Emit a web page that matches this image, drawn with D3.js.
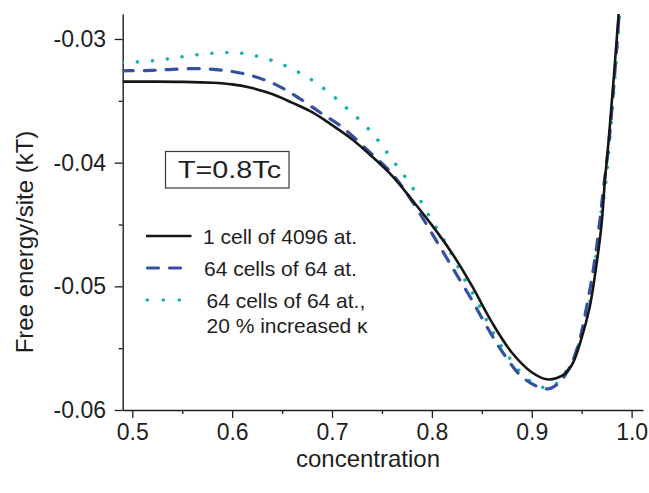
<!DOCTYPE html>
<html>
<head>
<meta charset="utf-8">
<script src="https://cdn.jsdelivr.net/npm/d3@7"></script>
<style>
  html, body { margin: 0; padding: 0; background: #fff; }
  svg { display: block; font-family: "Liberation Sans", Arial, Helvetica, sans-serif; }
</style>
</head>
<body>
<svg id="chart" width="649" height="493"></svg>
<script>
// Free energy per site vs. concentration at T = 0.8 Tc
const singleCellX = [0.49, 0.52, 0.55, 0.58, 0.60, 0.62, 0.64, 0.66, 0.68, 0.70, 0.72, 0.74, 0.76, 0.78, 0.80, 0.82, 0.84, 0.86, 0.88, 0.90, 0.915, 0.93, 0.94, 0.95, 0.958, 0.965, 0.97, 0.9733, 0.977, 0.987, 0.99];
const singleCellF = [-0.03345, -0.03345, -0.03347, -0.03354, -0.03367, -0.03397, -0.03445, -0.03515, -0.03592, -0.03696, -0.03810, -0.03950, -0.04105, -0.04300, -0.04505, -0.04730, -0.04995, -0.05290, -0.05535, -0.05695, -0.05752, -0.05725, -0.05638, -0.05415, -0.05170, -0.04814, -0.04490, -0.04140, -0.03820, -0.02800, -0.02450];

const smallCellsX = [0.49, 0.50, 0.52, 0.54, 0.565, 0.59, 0.615, 0.64, 0.665, 0.69, 0.71, 0.735, 0.76, 0.78, 0.81, 0.825, 0.84, 0.855, 0.872, 0.892, 0.915, 0.926, 0.938, 0.947, 0.955, 0.961, 0.965, 0.9683, 0.9716, 0.9775, 0.9875, 0.99];
const smallCellsF = [-0.03258, -0.03256, -0.03254, -0.03245, -0.03240, -0.03252, -0.03287, -0.03355, -0.03468, -0.03605, -0.03712, -0.03895, -0.04088, -0.04310, -0.04706, -0.04908, -0.05110, -0.05326, -0.05547, -0.05744, -0.05830, -0.05790, -0.05655, -0.05461, -0.05165, -0.04895, -0.04679, -0.04464, -0.04221, -0.03820, -0.02800, -0.02480];

const kappaX = [0.49, 0.51, 0.53, 0.545, 0.56, 0.575, 0.59, 0.603, 0.618, 0.633, 0.648, 0.664, 0.679, 0.698, 0.713, 0.727, 0.741, 0.752, 0.763, 0.774, 0.784, 0.793, 0.801, 0.811, 0.819, 0.827, 0.835, 0.844, 0.852, 0.861, 0.871, 0.8815, 0.893, 0.909, 0.916, 0.923, 0.943, 0.9515, 0.9565, 0.9616, 0.965, 0.9683, 0.9733, 0.978, 0.988, 0.99];
const kappaF = [-0.03190, -0.03183, -0.03168, -0.03150, -0.03132, -0.03119, -0.03111, -0.03110, -0.03127, -0.03156, -0.03199, -0.03259, -0.03327, -0.03440, -0.03547, -0.03649, -0.03768, -0.03884, -0.04005, -0.04124, -0.04245, -0.04369, -0.04485, -0.04612, -0.04728, -0.04854, -0.04976, -0.05100, -0.05230, -0.05370, -0.05500, -0.05620, -0.05731, -0.05812, -0.05820, -0.05798, -0.05569, -0.05326, -0.05191, -0.04949, -0.04706, -0.04464, -0.04221, -0.03820, -0.02800, -0.02500];

const xMajorTicks = [0.5, 0.6, 0.7, 0.8, 0.9, 1.0];
const xMinorTicks = [0.55, 0.65, 0.75, 0.85, 0.95];
const yMajorTicks = [-0.03, -0.04, -0.05, -0.06];
const yMinorTicks = [-0.035, -0.045, -0.055];

const legendLabels = ["1 cell of 4096 at.", "64 cells of 64 at.", "64 cells of 64 at.,"];
const legendExtra = "20 % increased \u03BA";
const annotation = "T=0.8Tc";
const xTitle = "concentration";
const yTitle = "Free energy/site (kT)";

const svg = d3.select("#chart");
const plot = { left: 122.7, right: 643, top: 14, bottom: 410 };

const x = d3.scaleLinear().domain([0.4904, 1.0114]).range([plot.left, plot.right]);
const y = d3.scaleLinear().domain([-0.06, -0.02798]).range([plot.bottom, plot.top]);

const ink = "#1e1e1e";
const colBlack = "#161616";
const colBlue = "#3550a2";
const colCyan = "#17b3b3";

svg.append("defs").append("clipPath").attr("id", "plotClip")
  .append("rect")
  .attr("x", plot.left).attr("y", plot.top)
  .attr("width", plot.right - plot.left).attr("height", plot.bottom - plot.top);

// axes
function styleAxis(g) {
  g.selectAll("path.domain").attr("stroke", ink).attr("stroke-width", 1.4);
  g.selectAll(".tick line").attr("stroke", ink).attr("stroke-width", 1.3);
  g.selectAll(".tick text").attr("fill", ink).attr("font-size", 23)
    .attr("font-family", "\"Liberation Sans\", Arial, sans-serif");
}

svg.append("g").attr("transform", `translate(0,${plot.bottom})`)
  .call(d3.axisBottom(x).tickValues(xMinorTicks).tickSize(4).tickFormat(""))
  .call(g => g.select("path.domain").remove())
  .call(styleAxis);
svg.append("g").attr("transform", `translate(${plot.left},0)`)
  .call(d3.axisLeft(y).tickValues(yMinorTicks).tickSize(4).tickFormat(""))
  .call(g => g.select("path.domain").remove())
  .call(styleAxis);

svg.append("g").attr("transform", `translate(0,${plot.bottom})`)
  .call(d3.axisBottom(x).tickValues(xMajorTicks).tickSize(8).tickSizeOuter(0).tickPadding(6).tickFormat(d3.format(".1f")))
  .call(styleAxis);
svg.append("g").attr("transform", `translate(${plot.left},0)`)
  .call(d3.axisLeft(y).tickValues(yMajorTicks).tickSize(8).tickSizeOuter(0).tickPadding(8.7).tickFormat(d => d3.format(".2f")(d).replace("\u2212", "-")))
  .call(styleAxis);

// axis titles
svg.append("text")
  .attr("x", 368).attr("y", 467)
  .attr("text-anchor", "middle").attr("font-size", 24).attr("fill", ink)
  .text(xTitle);
svg.append("text")
  .attr("transform", "translate(33,242) rotate(-90)")
  .attr("text-anchor", "middle").attr("font-size", 24).attr("fill", ink)
  .text(yTitle);

// curves
const line = d3.line()
  .x(d => x(d[0])).y(d => y(d[1]))
  .curve(d3.curveCatmullRom.alpha(0.5));

const curves = svg.append("g").attr("clip-path", "url(#plotClip)");

curves.append("path")
  .datum(d3.zip(kappaX, kappaF))
  .attr("d", line).attr("fill", "none")
  .attr("stroke", colCyan).attr("stroke-width", 3.6)
  .attr("stroke-linecap", "round").attr("stroke-dasharray", "0.01 15");

curves.append("path")
  .datum(d3.zip(smallCellsX, smallCellsF))
  .attr("d", line).attr("fill", "none")
  .attr("stroke", colBlue).attr("stroke-width", 3.2)
  .attr("stroke-linecap", "round").attr("stroke-dasharray", "11 11");

curves.append("path")
  .datum(d3.zip(singleCellX, singleCellF))
  .attr("d", line).attr("fill", "none")
  .attr("stroke", colBlack).attr("stroke-width", 2.6);

// temperature annotation
const note = svg.append("g");
note.append("rect")
  .attr("x", 165.5).attr("y", 151.5).attr("width", 123.5).attr("height", 36.5)
  .attr("fill", "#fff").attr("stroke", "#3a3a3a").attr("stroke-width", 1.2);
note.append("text")
  .attr("x", 178).attr("y", 177.5)
  .attr("font-size", 23.5).attr("fill", ink)
  .attr("textLength", 103).attr("lengthAdjust", "spacingAndGlyphs")
  .text(annotation);

// legend
const legend = svg.append("g");
const rows = [236, 268, 300];
legend.append("line").attr("x1", 146).attr("x2", 191.5).attr("y1", rows[0]).attr("y2", rows[0])
  .attr("stroke", colBlack).attr("stroke-width", 2.6);
legend.append("line").attr("x1", 147.5).attr("x2", 183).attr("y1", rows[1]).attr("y2", rows[1])
  .attr("stroke", colBlue).attr("stroke-width", 3.2)
  .attr("stroke-linecap", "round").attr("stroke-dasharray", "11 11");
legend.append("line").attr("x1", 147.3).attr("x2", 180).attr("y1", rows[2]).attr("y2", rows[2])
  .attr("stroke", colCyan).attr("stroke-width", 3.6)
  .attr("stroke-linecap", "round").attr("stroke-dasharray", "0.01 16");

const textX = [203, 204, 206.5];
legendLabels.forEach((t, i) => {
  legend.append("text").attr("x", textX[i]).attr("y", rows[i] + 7.5)
    .attr("font-size", 21).attr("fill", ink).text(t);
});
legend.append("text").attr("x", 206.5).attr("y", 333)
  .attr("font-size", 21).attr("fill", ink).text(legendExtra);
</script>
</body>
</html>
